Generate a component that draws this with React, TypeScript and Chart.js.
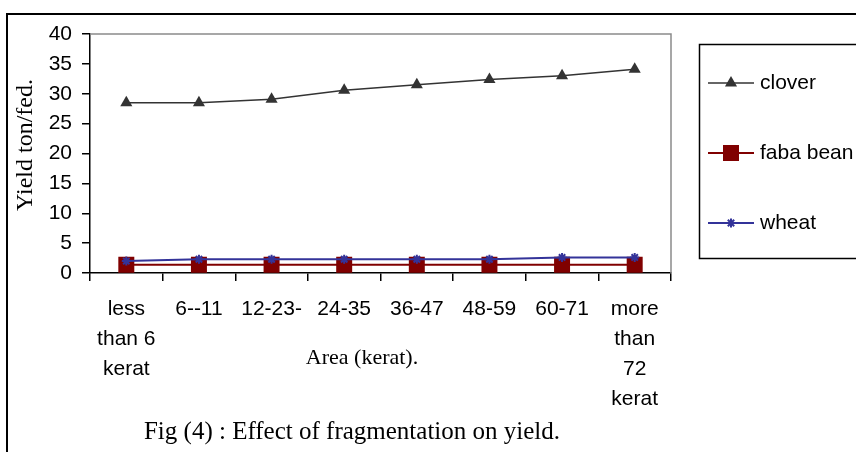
import React, { useEffect, useRef } from 'react';
import { Chart, registerables } from 'chart.js';

Chart.register(...registerables);

const categories: (string | string[])[] = [
  ['less', 'than 6', 'kerat'],
  '6--11',
  '12-23-',
  '24-35',
  '36-47',
  '48-59',
  '60-71',
  ['more', 'than', '72', 'kerat'],
];
const seriesNames = ['clover', 'faba bean', 'wheat'];
const clover = [28.5, 28.5, 29.1, 30.6, 31.5, 32.4, 33.0, 34.1];
const fabaBean = [1.4, 1.4, 1.4, 1.4, 1.4, 1.4, 1.4, 1.4];
const wheat = [2.0, 2.3, 2.3, 2.3, 2.3, 2.3, 2.6, 2.6];
const yMin = 0;
const yMax = 40;
const yStep = 5;
const xTitle = 'Area (kerat).';
const yTitle = 'Yield ton/fed.';
const caption = 'Fig (4) : Effect of fragmentation on yield.';

const SANS = '"Liberation Sans", Arial, sans-serif';
const SERIF = '"Liberation Serif", "Times New Roman", serif';

const colors = ['#333333', '#800000', '#333399'];
const markerStyles = ['triangle', 'rect', 'star'];
const markerRadius = [7, 11.3, 4.5];

function drawMarker(ctx: CanvasRenderingContext2D, style: string, x: number, y: number, r: number, color: string) {
  ctx.save();
  ctx.fillStyle = color;
  ctx.strokeStyle = color;
  ctx.lineWidth = 2;
  ctx.beginPath();
  if (style === 'triangle') {
    ctx.moveTo(x, y - r);
    ctx.lineTo(x + Math.sin(Math.PI / 3) * r, y + r / 2);
    ctx.lineTo(x - Math.sin(Math.PI / 3) * r, y + r / 2);
    ctx.closePath();
    ctx.fill();
  } else if (style === 'rect') {
    const s = Math.SQRT1_2 * r;
    ctx.rect(x - s, y - s, 2 * s, 2 * s);
    ctx.fill();
  } else {
    ctx.moveTo(x - r, y);
    ctx.lineTo(x + r, y);
    ctx.moveTo(x, y - r);
    ctx.lineTo(x, y + r);
    const d = r * Math.SQRT1_2;
    ctx.moveTo(x - d, y - d);
    ctx.lineTo(x + d, y + d);
    ctx.moveTo(x - d, y + d);
    ctx.lineTo(x + d, y - d);
    ctx.stroke();
  }
  ctx.restore();
}

const decorPlugin = {
  id: 'decor',
  beforeDatasetsDraw(chart: any) {
    const { ctx, chartArea } = chart;
    ctx.save();
    ctx.strokeStyle = '#8a8a8a';
    ctx.lineWidth = 1.5;
    ctx.beginPath();
    ctx.moveTo(chartArea.left, chartArea.top);
    ctx.lineTo(chartArea.right, chartArea.top);
    ctx.lineTo(chartArea.right, chartArea.bottom);
    ctx.stroke();
    ctx.restore();
  },
  afterDraw(chart: any) {
    const { ctx } = chart;
    ctx.save();
    // outer frame
    ctx.strokeStyle = '#000';
    ctx.lineWidth = 2;
    ctx.strokeRect(7, 14, 1000, 600);
    // legend box
    ctx.lineWidth = 1.5;
    ctx.strokeRect(699.5, 44.5, 300, 214);
    const rows = [83, 153, 223];
    seriesNames.forEach((name, i) => {
      const y = rows[i];
      ctx.strokeStyle = colors[i];
      ctx.lineWidth = i === 0 ? 1.5 : 2;
      ctx.beginPath();
      ctx.moveTo(708, y);
      ctx.lineTo(754, y);
      ctx.stroke();
      drawMarker(ctx, markerStyles[i], 731, y, markerRadius[i], colors[i]);
      ctx.fillStyle = '#000';
      ctx.font = '21px ' + SANS;
      ctx.textAlign = 'left';
      ctx.textBaseline = 'middle';
      ctx.fillText(name, 760, y);
    });
    // axis titles
    ctx.fillStyle = '#000';
    ctx.font = '22px ' + SERIF;
    ctx.textAlign = 'center';
    ctx.textBaseline = 'middle';
    ctx.fillText(xTitle, 362, 358);
    ctx.save();
    ctx.font = '24px ' + SERIF;
    ctx.translate(26, 145);
    ctx.rotate(-Math.PI / 2);
    ctx.fillText(yTitle, 0, 0);
    ctx.restore();
    // caption
    ctx.font = '25px ' + SERIF;
    ctx.fillText(caption, 352, 432);
    ctx.restore();
  },
};

export default function App() {
  const ref = useRef<HTMLCanvasElement | null>(null);
  useEffect(() => {
    document.body.style.margin = '0';
    if (!ref.current) return;
    const chart = new Chart(ref.current, {
      type: 'line',
      data: {
        labels: categories as any,
        datasets: [
          {
            label: seriesNames[0],
            data: clover,
            borderColor: colors[0],
            backgroundColor: colors[0],
            borderWidth: 1.5,
            pointStyle: 'triangle',
            pointRadius: markerRadius[0],
            pointBorderWidth: 0,
            order: 2,
          },
          {
            label: seriesNames[1],
            data: fabaBean,
            borderColor: colors[1],
            backgroundColor: colors[1],
            borderWidth: 2,
            pointStyle: 'rect',
            pointRadius: markerRadius[1],
            pointBorderWidth: 0,
            order: 1,
          },
          {
            label: seriesNames[2],
            data: wheat,
            borderColor: colors[2],
            backgroundColor: colors[2],
            borderWidth: 2,
            pointStyle: 'star',
            pointRadius: markerRadius[2],
            pointBorderWidth: 2,
            order: 0,
          },
        ],
      },
      options: {
        responsive: false,
        animation: false,
        devicePixelRatio: 1,
        layout: { padding: { left: 0, top: 34, right: 185, bottom: 0 } },
        plugins: {
          legend: { display: false },
          title: { display: false },
          tooltip: { enabled: false },
        },
        elements: { line: { tension: 0 } },
        scales: {
          x: {
            offset: true,
            grid: {
              offset: true,
              drawOnChartArea: false,
              drawTicks: true,
              tickLength: 8,
              color: '#000',
              lineWidth: 1.5,
            },
            border: { color: '#000', width: 1.5 },
            ticks: {
              color: '#000',
              font: { family: SANS, size: 21, lineHeight: 1.43 },
              padding: 13,
              maxRotation: 0,
              minRotation: 0,
              autoSkip: false,
            },
            afterFit: (scale: any) => {
              scale.height = 452 - 273;
            },
          },
          y: {
            min: yMin,
            max: yMax,
            grid: {
              drawOnChartArea: false,
              drawTicks: true,
              tickLength: 8,
              color: '#000',
              lineWidth: 1.5,
            },
            border: { color: '#000', width: 1.5 },
            ticks: {
              stepSize: yStep,
              color: '#000',
              font: { family: SANS, size: 21 },
              padding: 10,
            },
            afterFit: (scale: any) => {
              scale.width = 90;
            },
          },
        },
      },
      plugins: [decorPlugin],
    });
    return () => chart.destroy();
  }, []);
  return (
    <div style={{ position: 'absolute', left: 0, top: 0, width: 856, height: 452, background: '#fff' }}>
      <canvas ref={ref} width={856} height={452} style={{ display: 'block' }} />
    </div>
  );
}
